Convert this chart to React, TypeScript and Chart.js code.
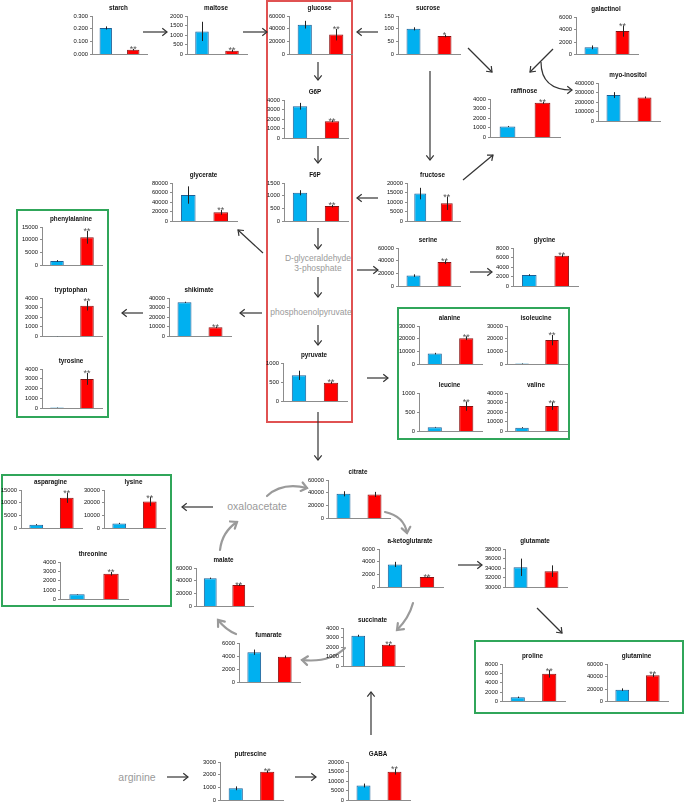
import React, { useEffect, useRef } from 'react';
import { Chart, registerables } from 'chart.js';

Chart.register(...registerables);

// ---------- data ----------
const metabolites = [
  'starch', 'maltose', 'glucose', 'sucrose', 'galactinol', 'myo-inositol', 'raffinose',
  'G6P', 'F6P', 'glycerate', 'fructose', 'phenylalanine', 'tryptophan', 'tyrosine',
  'serine', 'glycine', 'shikimate', 'pyruvate', 'alanine', 'isoleucine', 'leucine', 'valine',
  'asparagine', 'lysine', 'threonine', 'malate', 'citrate', 'a-ketoglutarate', 'succinate',
  'fumarate', 'glutamate', 'proline', 'glutamine', 'putrescine', 'GABA',
];
const controlMeans = [
  0.207, 1200, 46500, 100, 1150, 275000, 1150,
  3350, 1120, 55000, 14500, 1800, 30, 100,
  17000, 2400, 35500, 680, 8500, 800, 110, 4000,
  1500, 4000, 550, 44000, 38500, 3600, 3200,
  4600, 34200, 900, 19000, 950, 7800,
];
const controlErrors = [
  0.012, 500, 6000, 6, 300, 30000, 50,
  350, 100, 18000, 3000, 300, 10, 20,
  2000, 150, 600, 120, 600, 200, 10, 500,
  200, 400, 30, 1000, 4000, 400, 100,
  400, 1800, 150, 2000, 150, 1000,
];
const treatedMeans = [
  0.038, 200, 31000, 72, 3750, 250000, 3600,
  1800, 600, 19000, 9500, 11000, 3200, 3000,
  38000, 6400, 9500, 490, 20500, 19000, 660, 26500,
  12000, 21000, 2750, 33500, 37500, 1650, 2250,
  3900, 33400, 5900, 42000, 2250, 15000,
];
const treatedErrors = [
  0.006, 60, 9000, 5, 900, 10000, 100,
  100, 50, 5000, 3500, 2500, 500, 600,
  3000, 300, 800, 30, 1500, 4000, 120, 4000,
  2000, 3500, 200, 1500, 4000, 100, 100,
  200, 1200, 800, 3000, 100, 1500,
];
const significance = [
  '**', '**', '**', '*', '**', '', '**',
  '**', '**', '**', '**', '**', '**', '**',
  '**', '**', '**', '**', '**', '**', '**', '**',
  '**', '**', '**', '**', '', '**', '**',
  '', '', '**', '**', '**', '**',
];
const axisMin = [
  0, 0, 0, 0, 0, 0, 0,
  0, 0, 0, 0, 0, 0, 0,
  0, 0, 0, 0, 0, 0, 0, 0,
  0, 0, 0, 0, 0, 0, 0,
  0, 30000, 0, 0, 0, 0,
];
const axisMax = [
  0.3, 2000, 60000, 150, 6000, 400000, 4000,
  4000, 1500, 80000, 20000, 15000, 4000, 4000,
  60000, 8000, 40000, 1000, 30000, 30000, 1000, 40000,
  15000, 30000, 4000, 60000, 60000, 6000, 4000,
  6000, 38000, 8000, 60000, 3000, 20000,
];
const axisStep = [
  0.1, 500, 20000, 50, 2000, 100000, 1000,
  1000, 500, 20000, 5000, 5000, 1000, 1000,
  20000, 2000, 10000, 500, 10000, 10000, 500, 10000,
  5000, 10000, 1000, 20000, 20000, 2000, 1000,
  2000, 2000, 2000, 20000, 1000, 5000,
];

// ---------- layout (plot area: axis x, axis end x, top y, bottom y) ----------
const chartLayout = [
  [92, 147, 16, 57], [187, 247, 16, 57], [289, 352, 16, 57], [398, 460, 16, 57],
  [576, 638, 17, 57], [598, 660, 83, 124], [490, 560, 99, 140],
  [284, 348, 100, 141], [284, 348, 183, 224], [172, 237, 183, 224], [407, 460, 183, 224],
  [42, 102, 227, 268], [42, 102, 298, 339], [42, 102, 369, 411],
  [398, 460, 248, 289], [513, 578, 248, 289], [169, 231, 298, 339], [283, 347, 363, 404],
  [419, 482, 326, 367], [507, 567, 326, 367], [419, 482, 393, 434], [507, 567, 393, 434],
  [21, 82, 490, 531], [104, 165, 490, 531], [60, 128, 562, 602],
  [196, 253, 568, 609], [328, 390, 480, 521], [379, 443, 549, 590], [343, 404, 628, 669],
  [239, 300, 643, 685], [505, 567, 549, 590], [502, 565, 664, 704], [607, 668, 664, 704],
  [220, 283, 762, 803], [348, 410, 762, 803],
];

const straightArrows = [
  [143, 32, 167, 32], [243, 32, 267, 32], [378, 32, 357, 32], [318, 62, 318, 80],
  [430, 71, 430, 160], [468, 48, 492, 72], [553, 49, 530, 72], [463, 180, 493, 155],
  [318, 146, 318, 163], [378, 198, 357, 198], [318, 228, 318, 249], [263, 253, 238, 230],
  [357, 270, 378, 270], [470, 272, 492, 272], [318, 277, 318, 297], [262, 313, 240, 313],
  [143, 313, 122, 313], [318, 325, 318, 345], [367, 378, 388, 378], [318, 412, 318, 460],
  [458, 565, 482, 565], [537, 608, 562, 633], [371, 735, 371, 692], [167, 777, 188, 777],
  [295, 777, 316, 777], [213, 507, 182, 507],
];
const blackCurves = [[541, 62, 541, 90, 572, 90]];
const grayCurves = [
  [267, 496, 282, 482, 307, 488], [385, 512, 404, 516, 407, 533],
  [413, 603, 409, 618, 397, 630], [345, 648, 330, 663, 302, 660],
  [236, 634, 226, 630, 218, 620], [220, 550, 222, 532, 237, 522],
];
const redBox = [267, 1, 352, 422];
const greenBoxes = [
  [17, 210, 108, 417], [398, 308, 569, 439], [2, 475, 171, 606], [475, 641, 683, 713],
];
const grayLabels: [string, number, number, number][] = [
  ['D-glyceraldehyde', 318, 258, 8.5], ['3-phosphate', 318, 268, 8.5],
  ['phosphoenolpyruvate', 311, 312, 8.5], ['oxaloacetate', 257, 506, 10.5],
  ['arginine', 137, 777, 10.5],
];

// ---------- styles ----------
const FONT = '"Liberation Sans", Arial, Helvetica, sans-serif';
const BLUE = '#00B0F0';
const RED = '#FF0000';
const AXIS = '#8c8c8c';
const LABEL_W = 30;
const PAD_TOP = 18;
const PAD_RIGHT = 4;
const PAD_BOTTOM = 3;

function MiniChart({ i }: { i: number }) {
  const ref = useRef<HTMLCanvasElement | null>(null);
  const [ax, ex, top, bottom] = chartLayout[i];
  const w = LABEL_W + (ex - ax) + PAD_RIGHT;
  const h = PAD_TOP + (bottom - top) + PAD_BOTTOM;

  useEffect(() => {
    const means = [controlMeans[i], treatedMeans[i]];
    const errs = [controlErrors[i], treatedErrors[i]];
    const step = axisStep[i];
    const decorPlugin = {
      id: 'decor' + i,
      afterDatasetsDraw(chart: any) {
        const ctx = chart.ctx;
        const y = chart.scales.y;
        const meta = chart.getDatasetMeta(0);
        ctx.save();
        ctx.strokeStyle = '#222';
        ctx.lineWidth = 1;
        meta.data.forEach((bar: any, j: number) => {
          const x = Math.round(bar.x) + 0.5;
          ctx.beginPath();
          ctx.moveTo(x, y.getPixelForValue(Math.max(means[j] - errs[j], axisMin[i])));
          ctx.lineTo(x, y.getPixelForValue(means[j] + errs[j]));
          ctx.stroke();
        });
        if (significance[i]) {
          const bar = meta.data[1];
          ctx.fillStyle = '#555';
          ctx.font = `9px ${FONT}`;
          ctx.textAlign = 'center';
          ctx.textBaseline = 'alphabetic';
          ctx.fillText(significance[i], bar.x, y.getPixelForValue(means[1] + errs[1]) + 3.5);
        }
        const ca = chart.chartArea;
        ctx.fillStyle = '#111';
        ctx.font = `bold 6.3px ${FONT}`;
        ctx.textAlign = 'center';
        ctx.textBaseline = 'middle';
        ctx.fillText(metabolites[i], (ca.left + ca.right) / 2 - 1, ca.top - 8);
        ctx.restore();
      },
    };
    const chart = new Chart(ref.current as HTMLCanvasElement, {
      type: 'bar',
      data: {
        labels: ['control', 'treated'],
        datasets: [
          {
            data: means,
            backgroundColor: [BLUE, RED],
            borderColor: ['#1d5f96', '#8a1212'],
            borderWidth: 1,
            categoryPercentage: 1,
            barPercentage: 0.45,
          },
        ],
      },
      options: {
        responsive: false,
        animation: false,
        devicePixelRatio: 1,
        layout: { padding: { top: PAD_TOP, right: PAD_RIGHT, bottom: PAD_BOTTOM, left: 0 } },
        plugins: { legend: { display: false }, tooltip: { enabled: false }, title: { display: false } },
        scales: {
          x: {
            type: 'category',
            offset: true,
            grid: { display: false },
            ticks: { display: false },
            border: { color: AXIS, width: 1 },
            afterFit: (s: any) => { s.height = 0; },
          },
          y: {
            min: axisMin[i],
            max: axisMax[i],
            ticks: {
              stepSize: step,
              color: '#111',
              padding: 2,
              font: { size: 5.8, family: FONT },
              callback: (v: any) => (step < 1 ? Number(v).toFixed(3) : String(Math.round(Number(v)))),
            },
            grid: { drawOnChartArea: false, drawTicks: true, tickLength: 2, color: AXIS },
            border: { color: AXIS, width: 1 },
            afterFit: (s: any) => { s.width = LABEL_W; },
          },
        },
      },
      plugins: [decorPlugin],
    } as any);
    return () => chart.destroy();
  }, [i]);

  return (
    <canvas
      ref={ref}
      width={w}
      height={h}
      style={{ position: 'absolute', left: ax - LABEL_W, top: top - PAD_TOP, width: w, height: h }}
    />
  );
}

function chevron(x: number, y: number, dx: number, dy: number, len: number) {
  const l = Math.hypot(dx, dy) || 1;
  const ux = dx / l, uy = dy / l;
  const a = (38 * Math.PI) / 180;
  const r1x = ux * Math.cos(a) - uy * Math.sin(a), r1y = ux * Math.sin(a) + uy * Math.cos(a);
  const r2x = ux * Math.cos(-a) - uy * Math.sin(-a), r2y = ux * Math.sin(-a) + uy * Math.cos(-a);
  return `M${x - r1x * len},${y - r1y * len} L${x},${y} L${x - r2x * len},${y - r2y * len}`;
}

function Diagram() {
  return (
    <svg width={685} height={806} style={{ position: 'absolute', left: 0, top: 0 }}>
      <rect x={redBox[0]} y={redBox[1]} width={redBox[2] - redBox[0]} height={redBox[3] - redBox[1]}
        fill="none" stroke="#e05252" strokeWidth={2} />
      {greenBoxes.map((b, k) => (
        <rect key={k} x={b[0]} y={b[1]} width={b[2] - b[0]} height={b[3] - b[1]}
          fill="none" stroke="#30a65a" strokeWidth={2} />
      ))}
      {straightArrows.map((a, k) => (
        <g key={k} stroke="#333" strokeWidth={1.2} fill="none">
          <path d={`M${a[0]},${a[1]} L${a[2]},${a[3]}`} />
          <path d={chevron(a[2], a[3], a[2] - a[0], a[3] - a[1], 6)} />
        </g>
      ))}
      {blackCurves.map((c, k) => (
        <g key={k} stroke="#333" strokeWidth={1.2} fill="none">
          <path d={`M${c[0]},${c[1]} Q${c[2]},${c[3]} ${c[4]},${c[5]}`} />
          <path d={chevron(c[4], c[5], c[4] - c[2], c[5] - c[3], 6)} />
        </g>
      ))}
      {grayCurves.map((c, k) => (
        <g key={k} stroke="#9a9a9a" strokeWidth={2.2} fill="none" strokeLinecap="round">
          <path d={`M${c[0]},${c[1]} Q${c[2]},${c[3]} ${c[4]},${c[5]}`} />
          <path d={chevron(c[4], c[5], c[4] - c[2], c[5] - c[3], 7)} />
        </g>
      ))}
      {grayLabels.map((t, k) => (
        <text key={k} x={t[1]} y={t[2]} fontSize={t[3]} fill="#9a9a9a" textAnchor="middle"
          dominantBaseline="central" fontFamily={FONT}>{t[0]}</text>
      ))}
    </svg>
  );
}

export default function App() {
  return (
    <div style={{ position: 'absolute', left: 0, top: 0, width: 685, height: 806, background: '#fff', overflow: 'hidden' }}>
      <Diagram />
      {metabolites.map((_, i) => (
        <MiniChart key={i} i={i} />
      ))}
    </div>
  );
}
